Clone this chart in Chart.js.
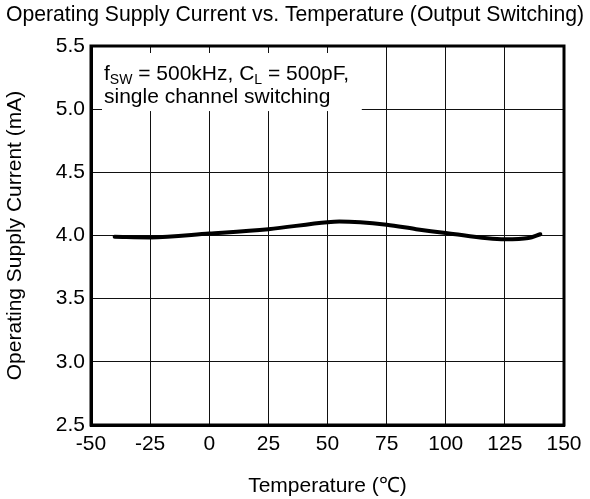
<!DOCTYPE html>
<html>
<head>
<meta charset="utf-8">
<script src="https://cdn.jsdelivr.net/npm/chart.js@4"></script>
<style>
  html, body { margin: 0; padding: 0; background: #fff; }
  #wrap { width: 590px; height: 499px; }
</style>
</head>
<body>
<div id="wrap"><canvas id="myChart" width="590" height="499"></canvas></div>
<script>
// values
const temps = [-40, -25, 0, 25, 50, 55, 75, 87.5, 100, 125, 135, 140];
const current = [3.99, 3.985, 4.015, 4.05, 4.105, 4.11, 4.085, 4.05, 4.02, 3.97, 3.98, 4.01];
const xTicks = [-50, -25, 0, 25, 50, 75, 100, 125, 150];
const yTicks = [2.5, 3.0, 3.5, 4.0, 4.5, 5.0, 5.5];
const chartTitle = 'Operating Supply Current vs. Temperature (Output Switching)';

const FONT = "'Liberation Sans', Arial, sans-serif";

// title across the whole page, white note box in the corner, frame round the plot
const notePlugin = {
  id: 'note',
  beforeDatasetsDraw(chart) {
    const { ctx, chartArea, scales } = chart;
    const x0 = chartArea.left + 11;
    const y0 = chartArea.top + 7;
    const x1 = scales.x.getPixelForValue(64.5);
    const y1 = scales.y.getPixelForValue(4.985);
    ctx.save();
    ctx.fillStyle = '#fff';
    ctx.fillRect(x0, y0, x1 - x0, y1 - y0);
    ctx.fillStyle = '#000';
    ctx.textBaseline = 'alphabetic';
    let x = x0 + 2;
    const base1 = y0 + 27;
    const parts = [
      ['f', false], ['SW', true], [' = 500kHz, C', false], ['L', true], [' = 500pF,', false]
    ];
    parts.forEach(([t, sub]) => {
      ctx.font = (sub ? '14px ' : '21px ') + FONT;
      ctx.fillText(t, x, sub ? base1 + 4 : base1);
      x += ctx.measureText(t).width;
    });
    ctx.font = '21px ' + FONT;
    ctx.fillText('single channel switching', x0 + 2, base1 + 23);
    ctx.restore();
  },
  afterDraw(chart) {
    const { ctx, chartArea, width } = chart;
    ctx.save();
    ctx.strokeStyle = '#000';
    ctx.lineWidth = 3;
    ctx.strokeRect(chartArea.left, chartArea.top, chartArea.right - chartArea.left, chartArea.bottom - chartArea.top);
    ctx.fillStyle = '#000';
    ctx.font = '21.2px ' + FONT;
    ctx.textAlign = 'center';
    ctx.textBaseline = 'alphabetic';
    ctx.fillText(chartTitle, width / 2, 21);
    ctx.restore();
  }
};

const ctx = document.getElementById('myChart');
new Chart(ctx, {
  type: 'line',
  data: {
    datasets: [{
      data: temps.map((t, i) => ({ x: t, y: current[i] })),
      borderColor: '#000',
      borderWidth: 4,
      pointRadius: 0,
      cubicInterpolationMode: 'monotone',
      borderCapStyle: 'round'
    }]
  },
  options: {
    responsive: false,
    animation: false,
    layout: { padding: { left: 0, right: 26, top: 46, bottom: 0 } },
    plugins: {
      legend: { display: false },
      tooltip: { enabled: false },
      title: { display: false }
    },
    scales: {
      x: {
        type: 'linear',
        min: -50, max: 150,
        afterBuildTicks: s => { s.ticks = xTicks.map(v => ({ value: v })); },
        afterFit: s => { s.height = 74; },
        grid: { color: '#111', lineWidth: 1, tickLength: 0 },
        border: { color: '#000', width: 3 },
        ticks: { color: '#000', font: { family: FONT, size: 21 }, padding: 7 },
        title: {
          display: true, text: 'Temperature (℃)', color: '#000',
          font: { family: FONT, size: 21 }, padding: { top: 5, bottom: 0 }
        }
      },
      y: {
        min: 2.5, max: 5.5,
        afterBuildTicks: s => { s.ticks = yTicks.map(v => ({ value: v })); },
        afterFit: s => { s.width = 91; },
        grid: { color: '#111', lineWidth: 1, tickLength: 0 },
        border: { color: '#000', width: 3 },
        ticks: { color: '#000', font: { family: FONT, size: 21 }, padding: 6, callback: v => v.toFixed(1) },
        title: {
          display: true, text: 'Operating Supply Current (mA)', color: '#000',
          font: { family: FONT, size: 21 }, padding: { top: 3, bottom: 4 }
        }
      }
    }
  },
  plugins: [notePlugin]
});
</script>
</body>
</html>
